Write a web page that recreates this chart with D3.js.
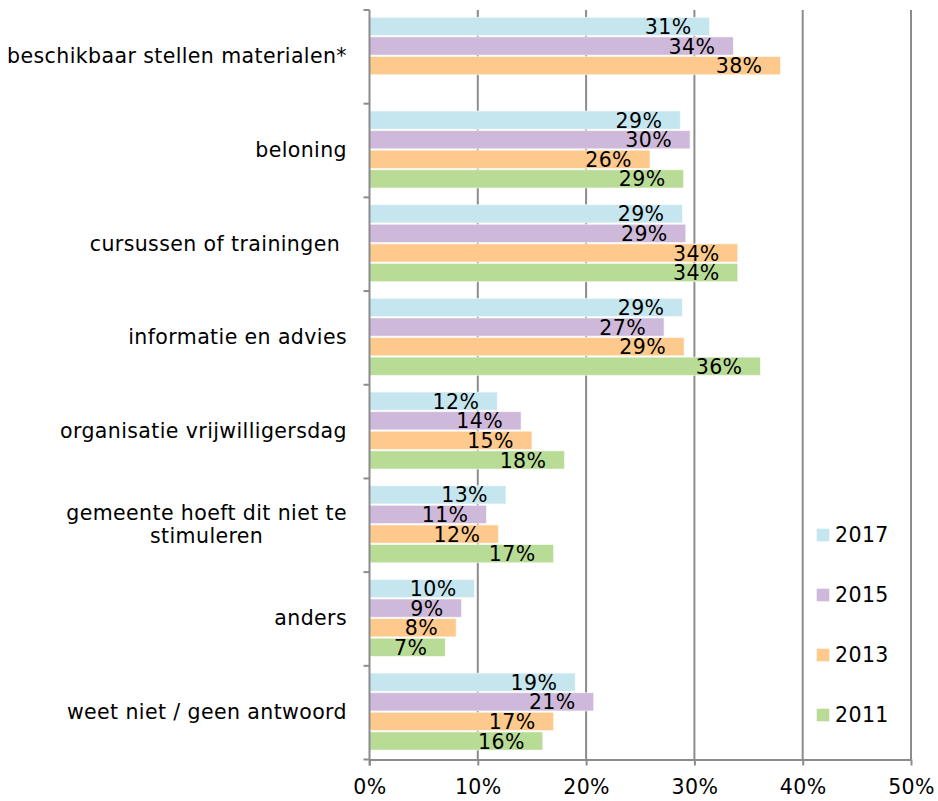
<!DOCTYPE html>
<html>
<head>
<meta charset="utf-8">
<script src="https://cdn.jsdelivr.net/npm/d3@7"></script>
<style>
    body { margin: 0; background: #fff; }
    svg text { font-family: "DejaVu Sans", Verdana, sans-serif; font-size: 20.5px; letter-spacing: 0.4px; fill: #000; }
</style>
</head>
<body>
<svg id="chart" width="938" height="801"></svg>
<script>
var categorieen = [
    "beschikbaar stellen materialen*",
    "beloning",
    "cursussen of trainingen ",
    "informatie en advies",
    "organisatie vrijwilligersdag",
    "gemeente hoeft dit niet te\nstimuleren",
    "anders",
    "weet niet / geen antwoord"
];
var jaren = ["2017", "2015", "2013", "2011"];
var waarden2017 = [31.4, 28.7, 28.9, 28.9, 11.8, 12.6, 9.7, 19.0];
var waarden2015 = [33.6, 29.6, 29.2, 27.2, 14.0, 10.8, 8.5, 20.7];
var waarden2013 = [37.95, 25.9, 34.0, 29.05, 15.0, 11.9, 8.0, 17.0];
var waarden2011 = [null, 29.0, 34.0, 36.1, 18.0, 17.0, 7.0, 16.0];
var kleuren = ["#c5e6ef", "#cfb9da", "#fec98c", "#b8db96"];
var xTicks = [0, 0.1, 0.2, 0.3, 0.4, 0.5];

var reeksen = [waarden2017, waarden2015, waarden2013, waarden2011];

var svg = d3.select("#chart");
var links = 369.5, rechts = 911, boven = 10, onder = 759.5;
var grijs = "#8c8c8c";

var x = d3.scaleLinear().domain([0, 0.5]).range([links, rechts]);
var y = d3.scaleBand().domain(categorieen).range([boven, onder]);
var yJaar = d3.scaleBand().domain(jaren).range([7.3, 84.3]).paddingInner(0.07);
var kleur = d3.scaleOrdinal().domain(jaren).range(kleuren);

// rasterlijnen
svg.append("g").selectAll("line")
    .data(xTicks.slice(1))
    .enter().append("line")
    .attr("x1", function (d) { return x(d); })
    .attr("x2", function (d) { return x(d); })
    .attr("y1", boven)
    .attr("y2", onder)
    .attr("stroke", grijs)
    .attr("stroke-width", 2);

// staven
var data = [];
categorieen.forEach(function (cat, i) {
    jaren.forEach(function (jaar, j) {
        var v = reeksen[j][i];
        if (v !== null) data.push({ cat: cat, jaar: jaar, waarde: v / 100 });
    });
});

var groep = svg.append("g");
groep.selectAll("rect")
    .data(data)
    .enter().append("rect")
    .attr("x", x(0))
    .attr("y", function (d) { return y(d.cat) + yJaar(d.jaar); })
    .attr("width", function (d) { return x(d.waarde) - x(0); })
    .attr("height", yJaar.bandwidth())
    .attr("fill", function (d) { return kleur(d.jaar); })
    .attr("stroke", "#ffffff")
    .attr("stroke-opacity", 0.55)
    .attr("stroke-width", 1);

groep.selectAll("text")
    .data(data)
    .enter().append("text")
    .attr("x", function (d) { return x(d.waarde) - 18; })
    .attr("y", function (d) { return y(d.cat) + yJaar(d.jaar) + yJaar.bandwidth() / 2; })
    .attr("dy", "0.37em")
    .attr("text-anchor", "end")
    .text(function (d) { return Math.round(d.waarde * 100) + "%"; });

// x-as
var xAs = svg.append("g")
    .attr("transform", "translate(0," + onder + ")")
    .call(d3.axisBottom(x).tickValues(xTicks).tickFormat(d3.format(".0%")).tickSize(6).tickPadding(14).tickSizeOuter(0));
xAs.select(".domain").attr("stroke", grijs).attr("stroke-width", 2);
xAs.selectAll(".tick line").attr("stroke", grijs).attr("stroke-width", 2);
xAs.selectAll(".tick text").style("font-size", "20.5px").attr("fill", "#000");

// y-as
svg.append("line")
    .attr("x1", links).attr("x2", links)
    .attr("y1", boven).attr("y2", onder + 6)
    .attr("stroke", grijs).attr("stroke-width", 2);

var grenzen = categorieen.map(function (c) { return y(c); }).concat([onder]);
svg.append("g").selectAll("line")
    .data(grenzen)
    .enter().append("line")
    .attr("x1", links - 6).attr("x2", links)
    .attr("y1", function (d) { return d; })
    .attr("y2", function (d) { return d; })
    .attr("stroke", grijs).attr("stroke-width", 2);

// categorielabels (spatie aan het eind blijft staan)
var regelHoogte = 23.3;
categorieen.forEach(function (cat) {
    var regels = cat.split("\n");
    var midden = y(cat) + y.bandwidth() / 2;
    var t = svg.append("text").attr("text-anchor", "end").style("white-space", "pre");
    regels.forEach(function (r, i) {
        t.append("tspan")
            .attr("x", 347)
            .attr("y", midden + 6.5 - (regels.length - 1) * regelHoogte / 2 + i * regelHoogte)
            .text(r);
    });
    if (regels.length > 1) {
        var breedte = d3.max(t.selectAll("tspan").nodes(), function (n) { return n.getComputedTextLength(); });
        t.attr("text-anchor", "middle");
        t.selectAll("tspan").attr("x", 347 - breedte / 2);
    }
});

// legenda
var legenda = svg.append("g").selectAll("g")
    .data(jaren)
    .enter().append("g")
    .attr("transform", function (d, i) { return "translate(816.7," + (535 + i * 60) + ")"; });
legenda.append("rect")
    .attr("x", 0).attr("y", -6.3)
    .attr("width", 12.6).attr("height", 12.6)
    .attr("fill", function (d) { return kleur(d); });
legenda.append("text")
    .attr("x", 18.3)
    .attr("dy", "0.36em")
    .text(function (d) { return d; });
</script>
</body>
</html>
